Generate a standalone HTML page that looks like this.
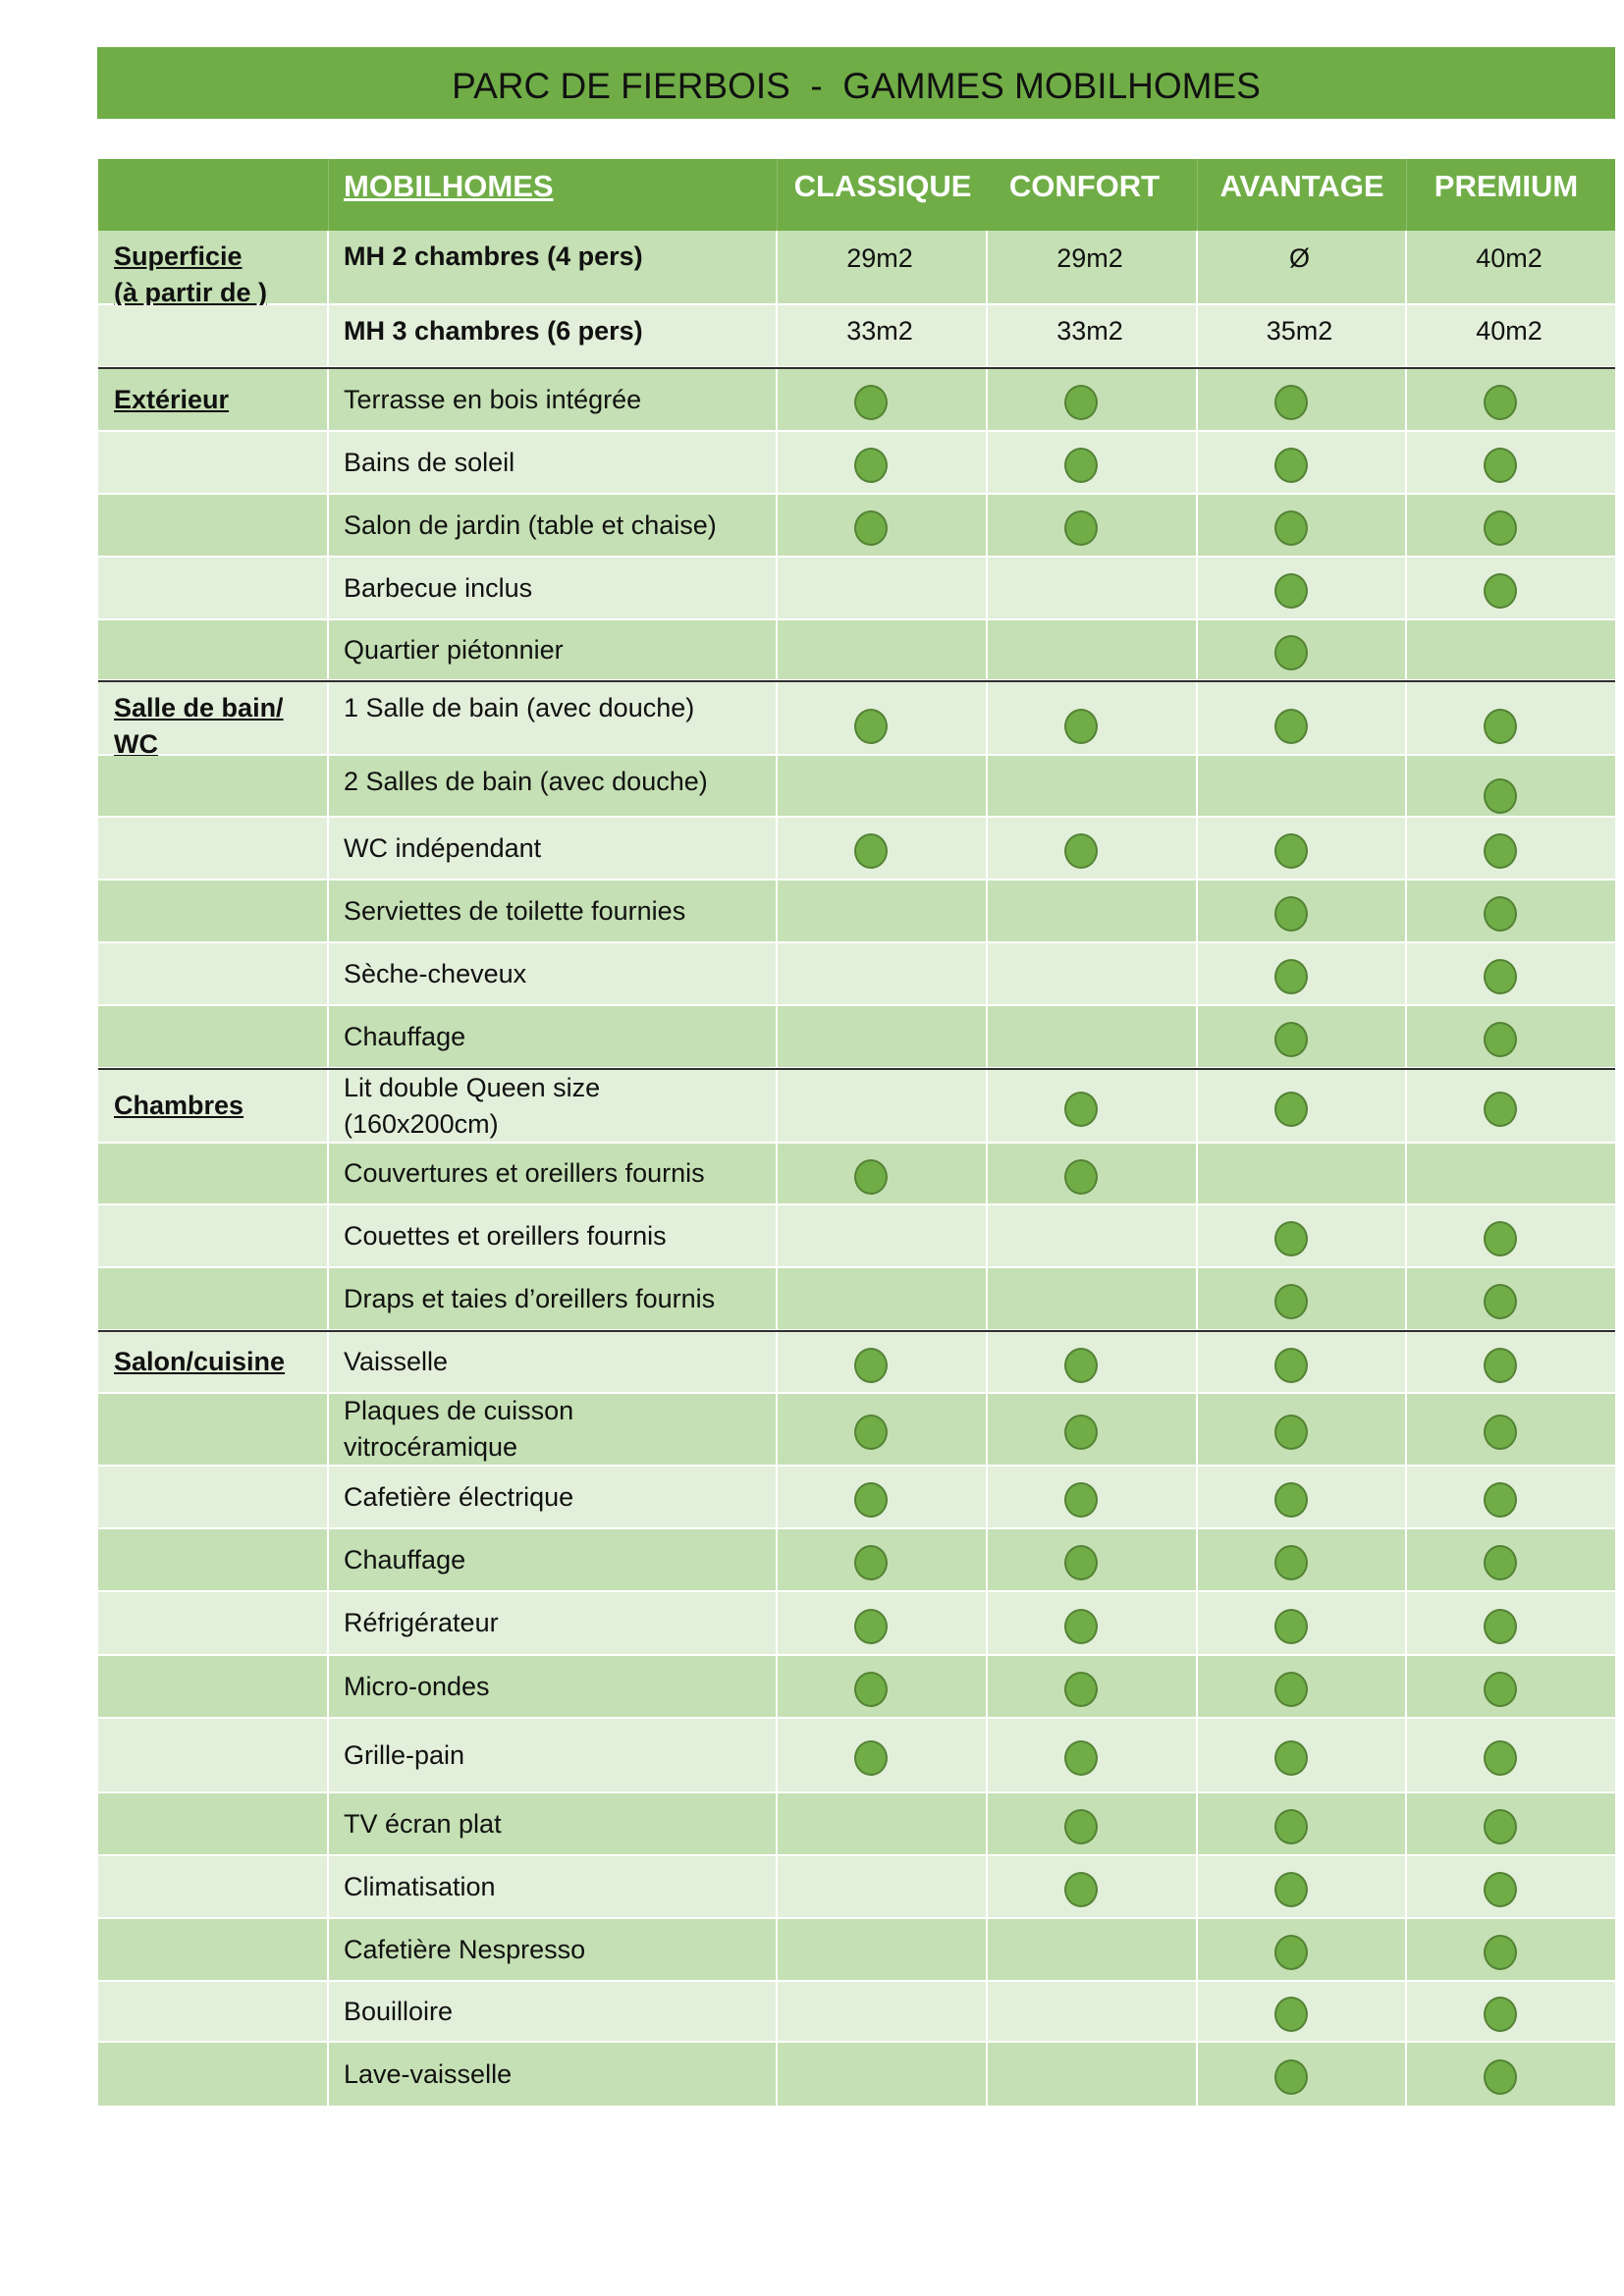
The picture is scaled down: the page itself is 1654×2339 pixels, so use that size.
<!DOCTYPE html>
<html><head><meta charset="utf-8">
<style>
body{margin:0;width:1654px;height:2339px;background:#fff;position:relative;font-family:"Liberation Sans",sans-serif;overflow:hidden}
.title{position:absolute;left:99px;top:48px;width:1546px;height:73px;background:#70ad47;display:flex;align-items:center;justify-content:center;font-size:37px;color:#111;white-space:pre;padding-top:6px;box-sizing:border-box}
.hd{position:absolute;left:100px;top:162px;width:1545px;height:73px;background:#70ad47;display:flex;color:#fff;font-weight:bold;font-size:31px}
.hd div{box-sizing:border-box;padding-top:10px;border-right:1px solid #8cbf6a;white-space:nowrap}
.r{position:absolute;left:100px;width:1545px;display:flex;box-sizing:border-box;border-bottom:2px solid #fff}
.D{background:#c5e0b4}.L{background:#e2efda}
.r>div{box-sizing:border-box;border-right:2px solid #fff;display:flex;align-items:center;font-size:27px;color:#111;line-height:37px}
.c0{width:235px;padding-left:16px;font-weight:bold;text-decoration:underline}
.c1{width:457px;padding-left:15px}
.c2{width:214px}.c3{width:214px}.c4{width:213px}.c5{width:212px;border-right:none!important}
.c2,.c3,.c4,.c5{justify-content:center}
.t>div.c0,.t>div.c1{align-items:flex-start;padding-top:8px}
.d{display:inline-block;width:30px;height:32px;border-radius:50%;background:#70ad47;border:2px solid #548235;margin-left:-22px;margin-top:6px}
.v{margin-left:-4px}
.k{position:absolute;left:100px;width:1545px;height:2px;background:#2f2f2f}
</style></head><body>
<div class="title">PARC DE FIERBOIS  -  GAMMES MOBILHOMES</div>
<div class="hd">
<div style="width:235px"></div>
<div style="width:457px;padding-left:15px;text-decoration:underline">MOBILHOMES</div>
<div style="width:214px;text-align:center;border:none">CLASSIQUE</div>
<div style="width:214px;text-align:center;padding-right:16px">CONFORT</div>
<div style="width:213px;text-align:center">AVANTAGE</div>
<div style="width:212px;text-align:center;border:none;padding-right:10px">PREMIUM</div>
</div>

<div class="r D t" style="top:235px;height:76px"><div class="c0">Superficie<br>(à partir de )</div><div class="c1" style="font-weight:bold">MH 2 chambres (4 pers)</div><div class="c2" style="align-items:flex-start;padding-top:10px"><span class="v">29m2</span></div><div class="c3" style="align-items:flex-start;padding-top:10px"><span class="v">29m2</span></div><div class="c4" style="align-items:flex-start;padding-top:10px"><span class="v">Ø</span></div><div class="c5" style="align-items:flex-start;padding-top:10px"><span class="v">40m2</span></div></div>
<div class="r L t" style="top:311px;height:64px"><div class="c0"></div><div class="c1" style="font-weight:bold">MH 3 chambres (6 pers)</div><div class="c2" style="align-items:flex-start;padding-top:8px"><span class="v">33m2</span></div><div class="c3" style="align-items:flex-start;padding-top:8px"><span class="v">33m2</span></div><div class="c4" style="align-items:flex-start;padding-top:8px"><span class="v">35m2</span></div><div class="c5" style="align-items:flex-start;padding-top:8px"><span class="v">40m2</span></div></div>
<div class="k" style="top:374px"></div>

<div class="r D" style="top:376px;height:64px"><div class="c0">Extérieur</div><div class="c1">Terrasse en bois intégrée</div><div class="c2"><span class="d"></span></div><div class="c3"><span class="d"></span></div><div class="c4"><span class="d"></span></div><div class="c5"><span class="d"></span></div></div>
<div class="r L" style="top:440px;height:64px"><div class="c0"></div><div class="c1">Bains de soleil</div><div class="c2"><span class="d"></span></div><div class="c3"><span class="d"></span></div><div class="c4"><span class="d"></span></div><div class="c5"><span class="d"></span></div></div>
<div class="r D" style="top:504px;height:64px"><div class="c0"></div><div class="c1">Salon de jardin (table et chaise)</div><div class="c2"><span class="d"></span></div><div class="c3"><span class="d"></span></div><div class="c4"><span class="d"></span></div><div class="c5"><span class="d"></span></div></div>
<div class="r L" style="top:568px;height:64px"><div class="c0"></div><div class="c1">Barbecue inclus</div><div class="c2"></div><div class="c3"></div><div class="c4"><span class="d"></span></div><div class="c5"><span class="d"></span></div></div>
<div class="r D" style="top:632px;height:62px"><div class="c0"></div><div class="c1">Quartier piétonnier</div><div class="c2"></div><div class="c3"></div><div class="c4"><span class="d"></span></div><div class="c5"></div></div>
<div class="k" style="top:693px"></div>

<div class="r L t" style="top:695px;height:75px"><div class="c0">Salle de bain/<br>WC</div><div class="c1">1 Salle de bain (avec douche)</div><div class="c2" style="padding-top:10px"><span class="d"></span></div><div class="c3" style="padding-top:10px"><span class="d"></span></div><div class="c4" style="padding-top:10px"><span class="d"></span></div><div class="c5" style="padding-top:10px"><span class="d"></span></div></div>
<div class="r D t" style="top:770px;height:63px"><div class="c0"></div><div class="c1">2 Salles de bain (avec douche)</div><div class="c2"></div><div class="c3"></div><div class="c4"></div><div class="c5" style="padding-top:14px"><span class="d"></span></div></div>
<div class="r L" style="top:833px;height:64px"><div class="c0"></div><div class="c1">WC indépendant</div><div class="c2"><span class="d"></span></div><div class="c3"><span class="d"></span></div><div class="c4"><span class="d"></span></div><div class="c5"><span class="d"></span></div></div>
<div class="r D" style="top:897px;height:64px"><div class="c0"></div><div class="c1">Serviettes de toilette fournies</div><div class="c2"></div><div class="c3"></div><div class="c4"><span class="d"></span></div><div class="c5"><span class="d"></span></div></div>
<div class="r L" style="top:961px;height:64px"><div class="c0"></div><div class="c1">Sèche-cheveux</div><div class="c2"></div><div class="c3"></div><div class="c4"><span class="d"></span></div><div class="c5"><span class="d"></span></div></div>
<div class="r D" style="top:1025px;height:64px"><div class="c0"></div><div class="c1">Chauffage</div><div class="c2"></div><div class="c3"></div><div class="c4"><span class="d"></span></div><div class="c5"><span class="d"></span></div></div>
<div class="k" style="top:1088px"></div>

<div class="r L" style="top:1090px;height:75px"><div class="c0">Chambres</div><div class="c1">Lit double Queen size<br>(160x200cm)</div><div class="c2"></div><div class="c3"><span class="d"></span></div><div class="c4"><span class="d"></span></div><div class="c5"><span class="d"></span></div></div>
<div class="r D" style="top:1165px;height:63px"><div class="c0"></div><div class="c1">Couvertures et oreillers fournis</div><div class="c2"><span class="d"></span></div><div class="c3"><span class="d"></span></div><div class="c4"></div><div class="c5"></div></div>
<div class="r L" style="top:1228px;height:64px"><div class="c0"></div><div class="c1">Couettes et oreillers fournis</div><div class="c2"></div><div class="c3"></div><div class="c4"><span class="d"></span></div><div class="c5"><span class="d"></span></div></div>
<div class="r D" style="top:1292px;height:64px"><div class="c0"></div><div class="c1">Draps et taies d’oreillers fournis</div><div class="c2"></div><div class="c3"></div><div class="c4"><span class="d"></span></div><div class="c5"><span class="d"></span></div></div>
<div class="k" style="top:1355px"></div>

<div class="r L" style="top:1357px;height:63px"><div class="c0">Salon/cuisine</div><div class="c1">Vaisselle</div><div class="c2"><span class="d"></span></div><div class="c3"><span class="d"></span></div><div class="c4"><span class="d"></span></div><div class="c5"><span class="d"></span></div></div>
<div class="r D" style="top:1420px;height:74px"><div class="c0"></div><div class="c1">Plaques de cuisson<br>vitrocéramique</div><div class="c2"><span class="d"></span></div><div class="c3"><span class="d"></span></div><div class="c4"><span class="d"></span></div><div class="c5"><span class="d"></span></div></div>
<div class="r L" style="top:1494px;height:64px"><div class="c0"></div><div class="c1">Cafetière électrique</div><div class="c2"><span class="d"></span></div><div class="c3"><span class="d"></span></div><div class="c4"><span class="d"></span></div><div class="c5"><span class="d"></span></div></div>
<div class="r D" style="top:1558px;height:64px"><div class="c0"></div><div class="c1">Chauffage</div><div class="c2"><span class="d"></span></div><div class="c3"><span class="d"></span></div><div class="c4"><span class="d"></span></div><div class="c5"><span class="d"></span></div></div>
<div class="r L" style="top:1622px;height:65px"><div class="c0"></div><div class="c1">Réfrigérateur</div><div class="c2"><span class="d"></span></div><div class="c3"><span class="d"></span></div><div class="c4"><span class="d"></span></div><div class="c5"><span class="d"></span></div></div>
<div class="r D" style="top:1687px;height:64px"><div class="c0"></div><div class="c1">Micro-ondes</div><div class="c2"><span class="d"></span></div><div class="c3"><span class="d"></span></div><div class="c4"><span class="d"></span></div><div class="c5"><span class="d"></span></div></div>
<div class="r L" style="top:1751px;height:76px"><div class="c0"></div><div class="c1">Grille-pain</div><div class="c2"><span class="d"></span></div><div class="c3"><span class="d"></span></div><div class="c4"><span class="d"></span></div><div class="c5"><span class="d"></span></div></div>
<div class="r D" style="top:1827px;height:64px"><div class="c0"></div><div class="c1">TV écran plat</div><div class="c2"></div><div class="c3"><span class="d"></span></div><div class="c4"><span class="d"></span></div><div class="c5"><span class="d"></span></div></div>
<div class="r L" style="top:1891px;height:64px"><div class="c0"></div><div class="c1">Climatisation</div><div class="c2"></div><div class="c3"><span class="d"></span></div><div class="c4"><span class="d"></span></div><div class="c5"><span class="d"></span></div></div>
<div class="r D" style="top:1955px;height:64px"><div class="c0"></div><div class="c1">Cafetière Nespresso</div><div class="c2"></div><div class="c3"></div><div class="c4"><span class="d"></span></div><div class="c5"><span class="d"></span></div></div>
<div class="r L" style="top:2019px;height:62px"><div class="c0"></div><div class="c1">Bouilloire</div><div class="c2"></div><div class="c3"></div><div class="c4"><span class="d"></span></div><div class="c5"><span class="d"></span></div></div>
<div class="r D" style="top:2081px;height:64px;border-bottom:none"><div class="c0"></div><div class="c1">Lave-vaisselle</div><div class="c2"></div><div class="c3"></div><div class="c4"><span class="d"></span></div><div class="c5"><span class="d"></span></div></div>
</body></html>
